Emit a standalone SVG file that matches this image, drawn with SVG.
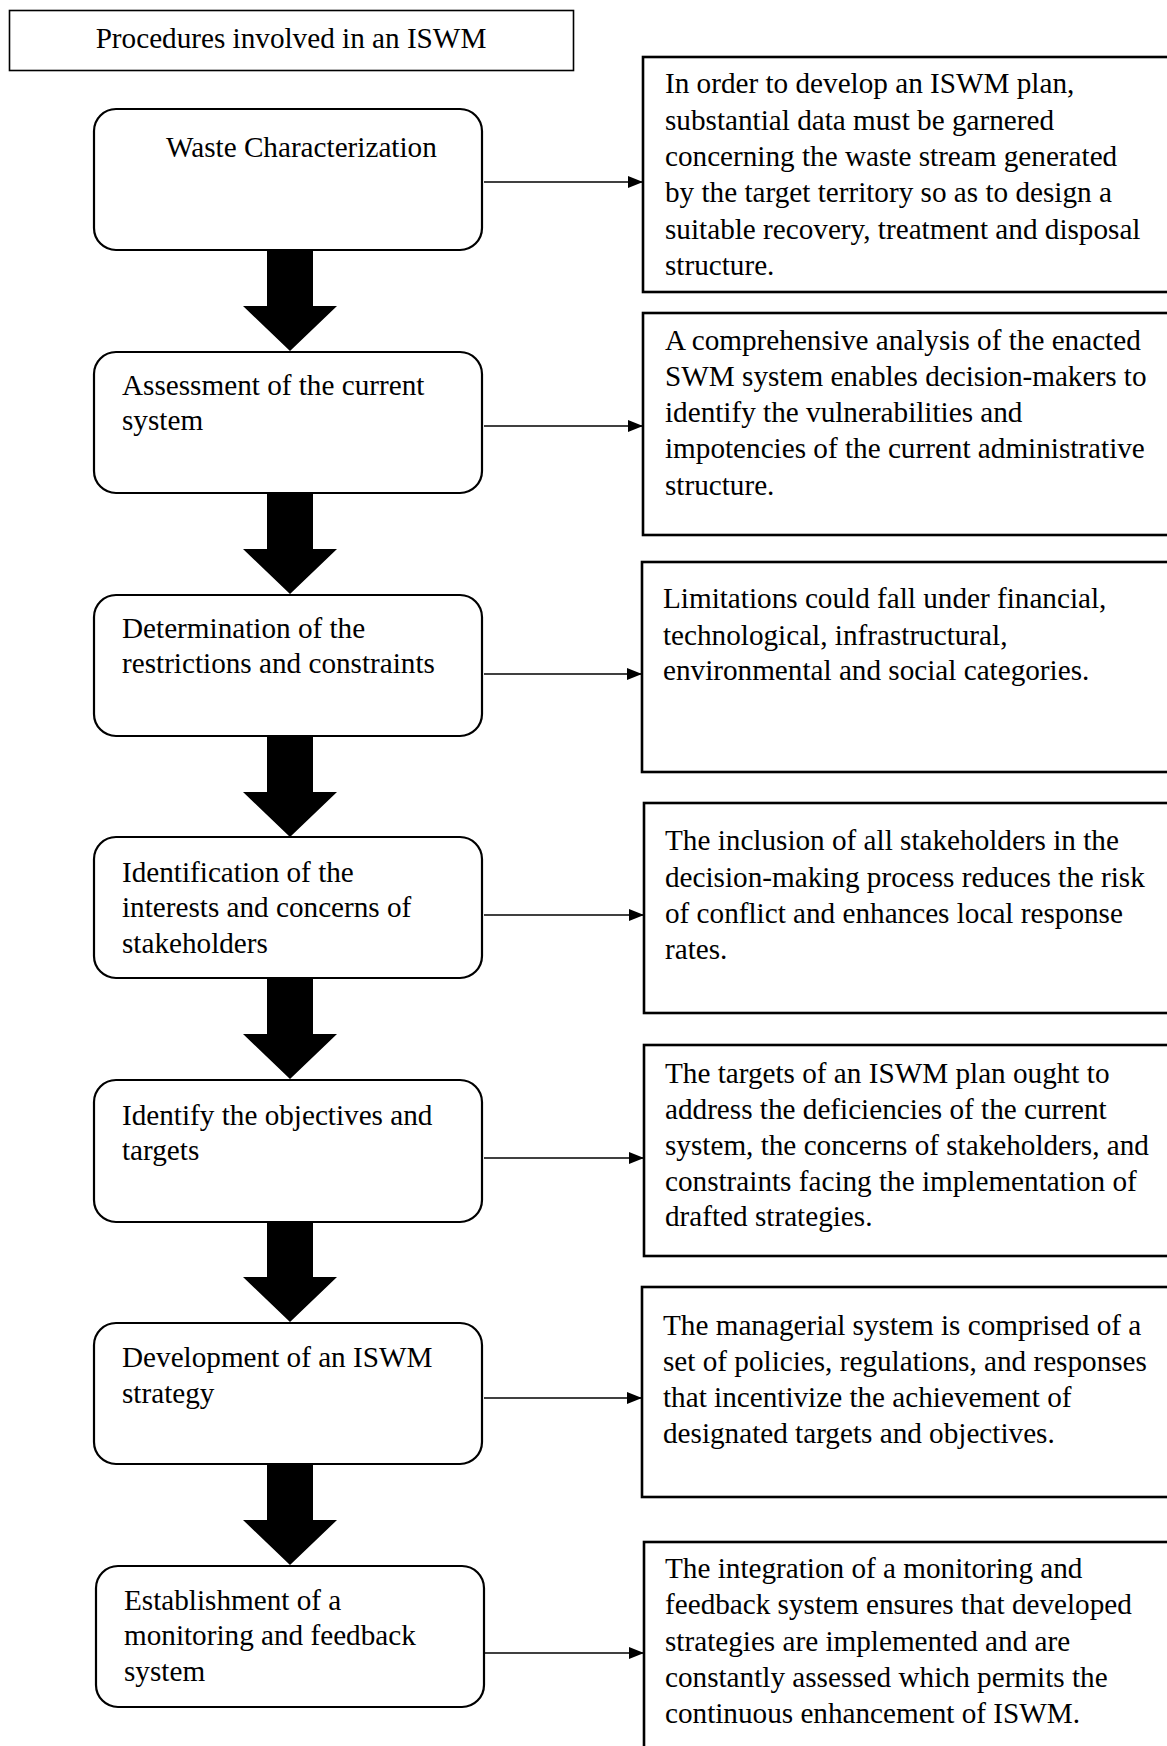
<svg xmlns="http://www.w3.org/2000/svg" width="1167" height="1746" viewBox="0 0 1167 1746">
<style>
text{font-family:"Liberation Serif","Times New Roman",serif;font-size:29.2px;fill:#000}
.title{fill:#fff;stroke:#000;stroke-width:1.6}
.step{fill:#fff;stroke:#000;stroke-width:2.2}
.note{fill:#fff;stroke:#000;stroke-width:2.6}
.link{stroke:#000;stroke-width:1.3;fill:none}
.big{fill:#000}
</style>
<defs>
<marker id="ah" markerUnits="userSpaceOnUse" markerWidth="15" markerHeight="12" refX="15" refY="6" orient="auto">
<path d="M0,0 L15,6 L0,12 z" fill="#000"/>
</marker>
<path id="blk" d="M-23,0 H23 V56 H47 L0,101 L-47,56 H-23 Z"/>
</defs>
<rect width="1167" height="1746" fill="#fff"/>

<g id="title">
<rect class="title" x="9.5" y="10.5" width="564" height="60"/>
<text x="291" y="48" text-anchor="middle">Procedures involved in an ISWM</text>
</g>

<g id="connectors">
<line class="link" x1="484" y1="182" x2="643" y2="182" marker-end="url(#ah)"/>
<line class="link" x1="484" y1="426" x2="643" y2="426" marker-end="url(#ah)"/>
<line class="link" x1="484" y1="674" x2="642" y2="674" marker-end="url(#ah)"/>
<line class="link" x1="484" y1="915" x2="644" y2="915" marker-end="url(#ah)"/>
<line class="link" x1="484" y1="1158" x2="644" y2="1158" marker-end="url(#ah)"/>
<line class="link" x1="484" y1="1398" x2="642" y2="1398" marker-end="url(#ah)"/>
<line class="link" x1="485" y1="1653" x2="644" y2="1653" marker-end="url(#ah)"/>
<use href="#blk" class="big" transform="translate(290,250)"/>
<use href="#blk" class="big" transform="translate(290,493)"/>
<use href="#blk" class="big" transform="translate(290,736)"/>
<use href="#blk" class="big" transform="translate(290,978)"/>
<use href="#blk" class="big" transform="translate(290,1221)"/>
<use href="#blk" class="big" transform="translate(290,1464)"/>
</g>

<g id="step1">
<rect class="step" x="94" y="109" width="388" height="141" rx="22"/>
<text x="166" y="157">Waste Characterization</text>
</g>
<g id="step2">
<rect class="step" x="94" y="352" width="388" height="141" rx="22"/>
<text x="122" y="395">Assessment of the current</text>
<text x="122" y="430">system</text>
</g>
<g id="step3">
<rect class="step" x="94" y="595" width="388" height="141" rx="22"/>
<text x="122" y="638">Determination of the</text>
<text x="122" y="673">restrictions and constraints</text>
</g>
<g id="step4">
<rect class="step" x="94" y="837" width="388" height="141" rx="22"/>
<text x="122" y="882">Identification of the</text>
<text x="122" y="917">interests and concerns of</text>
<text x="122" y="953">stakeholders</text>
</g>
<g id="step5">
<rect class="step" x="94" y="1080" width="388" height="142" rx="22"/>
<text x="122" y="1125">Identify the objectives and</text>
<text x="122" y="1160">targets</text>
</g>
<g id="step6">
<rect class="step" x="94" y="1323" width="388" height="141" rx="22"/>
<text x="122" y="1367">Development of an ISWM</text>
<text x="122" y="1403">strategy</text>
</g>
<g id="step7">
<rect class="step" x="96" y="1566" width="388" height="141" rx="22"/>
<text x="124" y="1610">Establishment of a</text>
<text x="124" y="1645">monitoring and feedback</text>
<text x="124" y="1681">system</text>
</g>

<g id="note1">
<rect class="note" x="643" y="57" width="560" height="235"/>
<text x="665" y="93">In order to develop an ISWM plan,</text>
<text x="665" y="130">substantial data must be garnered</text>
<text x="665" y="166">concerning the waste stream generated</text>
<text x="665" y="202">by the target territory so as to design a</text>
<text x="665" y="239">suitable recovery, treatment and disposal</text>
<text x="665" y="275">structure.</text>
</g>
<g id="note2">
<rect class="note" x="643" y="313" width="560" height="222"/>
<text x="665" y="350">A comprehensive analysis of the enacted</text>
<text x="665" y="386">SWM system enables decision-makers to</text>
<text x="665" y="422">identify the vulnerabilities and</text>
<text x="665" y="458">impotencies of the current administrative</text>
<text x="665" y="495">structure.</text>
</g>
<g id="note3">
<rect class="note" x="642" y="562" width="560" height="210"/>
<text x="663" y="608">Limitations could fall under financial,</text>
<text x="663" y="645">technological, infrastructural,</text>
<text x="663" y="680">environmental and social categories.</text>
</g>
<g id="note4">
<rect class="note" x="644" y="803" width="560" height="210"/>
<text x="665" y="850">The inclusion of all stakeholders in the</text>
<text x="665" y="887">decision-making process reduces the risk</text>
<text x="665" y="923">of conflict and enhances local response</text>
<text x="665" y="959">rates.</text>
</g>
<g id="note5">
<rect class="note" x="644" y="1045" width="560" height="211"/>
<text x="665" y="1083">The targets of an ISWM plan ought to</text>
<text x="665" y="1119">address the deficiencies of the current</text>
<text x="665" y="1155">system, the concerns of stakeholders, and</text>
<text x="665" y="1191">constraints facing the implementation of</text>
<text x="665" y="1226">drafted strategies.</text>
</g>
<g id="note6">
<rect class="note" x="642" y="1287" width="560" height="210"/>
<text x="663" y="1335">The managerial system is comprised of a</text>
<text x="663" y="1371">set of policies, regulations, and responses</text>
<text x="663" y="1407">that incentivize the achievement of</text>
<text x="663" y="1443">designated targets and objectives.</text>
</g>
<g id="note7">
<rect class="note" x="644" y="1542" width="560" height="230"/>
<text x="665" y="1578">The integration of a monitoring and</text>
<text x="665" y="1614">feedback system ensures that developed</text>
<text x="665" y="1651">strategies are implemented and are</text>
<text x="665" y="1687">constantly assessed which permits the</text>
<text x="665" y="1723">continuous enhancement of ISWM.</text>
</g>
</svg>
